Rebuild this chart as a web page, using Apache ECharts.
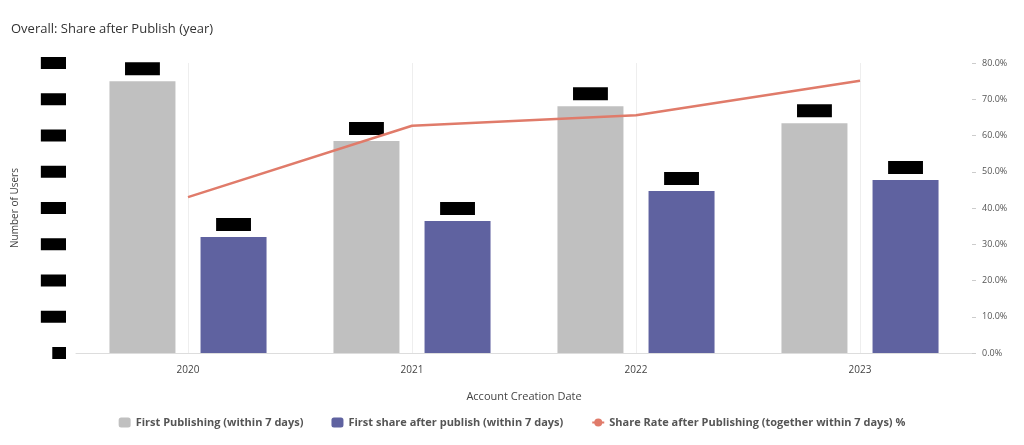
<!DOCTYPE html>
<html><head><meta charset="utf-8">
<script src="https://cdn.jsdelivr.net/npm/echarts@6/dist/echarts.min.js"></script>
<style>html,body{margin:0;padding:0;background:#fff}#main{width:1024px;height:445px}</style>
</head><body><div id="main"></div>
<script>
const years = ['2020', '2021', '2022', '2023']
const firstPublishing = [750, 585, 681, 634]
const firstShare = [320, 364, 447, 477]
const shareRate = [43.0, 62.7, 65.6, 75.1]

const chart = echarts.init(document.getElementById('main'))

const hiddenLabel = {
  show: true, position: 'top', color: '#000', backgroundColor: '#000',
  padding: [1, 8], fontSize: 11, distance: 6
}

chart.setOption({
  textStyle: {fontFamily: 'Open Sans'},
  title: {text: 'Overall: Share after Publish (year)', left: 6, top: 18,
    textStyle: {fontSize: 13, fontWeight: 'normal', color: '#333'}},
  grid: {left: 76, right: 52, top: 63, bottom: 92},
  legend: {bottom: 12, itemWidth: 12, itemHeight: 10, itemGap: 28,
    textStyle: {fontSize: 11, fontWeight: 'bold', color: '#555'}},
  xAxis: {
    type: 'category', data: years,
    name: 'Account Creation Date', nameLocation: 'middle', nameGap: 38,
    nameTextStyle: {fontSize: 11, color: '#444'},
    axisLine: {lineStyle: {color: '#ddd'}}, axisTick: {show: false},
    axisLabel: {fontSize: 10, color: '#444', margin: 12},
    splitLine: {show: true, alignWithLabel: true, lineStyle: {color: '#eee'}}
  },
  yAxis: [
    {type: 'value', min: 0, max: 800, interval: 100,
      name: 'Number of Users', nameLocation: 'middle', nameGap: 56,
      nameTextStyle: {fontSize: 10, color: '#444'},
      axisLabel: {color: '#000', backgroundColor: '#000', padding: [1, 4], fontSize: 10, margin: 10},
      splitLine: {show: false}},
    {type: 'value', min: 0, max: 80, interval: 10, position: 'right',
      axisLabel: {formatter: v => v.toFixed(1) + '%', fontSize: 9, color: '#555', margin: 10},
      axisTick: {show: true, length: 4, lineStyle: {color: '#ccc'}},
      axisLine: {show: false},
      splitLine: {show: false}}
  ],
  series: [
    {name: 'First Publishing (within 7 days)', type: 'bar', data: firstPublishing,
      barWidth: 66, barGap: '38%', itemStyle: {color: '#c0c0c0'}, label: hiddenLabel},
    {name: 'First share after publish (within 7 days)', type: 'bar', data: firstShare,
      barWidth: 66, itemStyle: {color: '#5f62a0'}, label: hiddenLabel},
    {name: 'Share Rate after Publishing (together within 7 days) %', type: 'line',
      yAxisIndex: 1, data: shareRate, symbol: 'none',
      lineStyle: {color: '#e07b6a', width: 2.5}, itemStyle: {color: '#e07b6a'},
      label: {show: true, position: 'top', formatter: p => p.value.toFixed(1) + '%',
        fontSize: 11, color: '#444', distance: 6}}
  ]
})
</script></body></html>
